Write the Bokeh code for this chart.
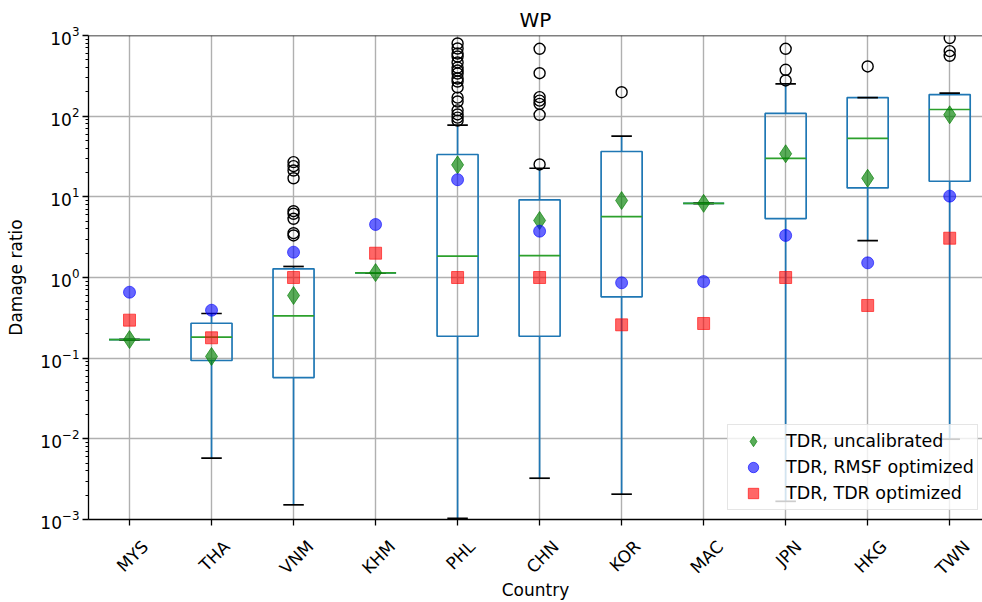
import math
from bokeh.plotting import figure
from bokeh.models import Range1d, FixedTicker, Span, Legend, LegendItem, LinearAxis
from bokeh.embed import file_html
from bokeh.resources import INLINE

countries = ["MYS", "THA", "VNM", "KHM", "PHL", "CHN", "KOR", "MAC", "JPN", "HKG", "TWN"]
q1 = [0.17, 0.0935, 0.0575, 1.14, 0.187, 0.187, 0.576, 8.3, 5.38, 12.9, 15.6]
median = [0.17, 0.182, 0.335, 1.14, 1.84, 1.87, 5.7, 8.3, 29.9, 52.9, 121]
q3 = [0.17, 0.271, 1.28, 1.14, 33.5, 9.19, 36.5, 8.3, 108, 170, 185]
whisker_low = [0.17, 0.00575, 0.00152, 1.14, 0.00103, 0.00325, 0.00206, 8.3, 0.00168, 2.87, 0.0099]
whisker_high = [0.17, 0.358, 1.37, 1.14, 77.3, 22.6, 56.5, 8.3, 252, 170, 193]

outliers_VNM = [26.9, 24.0, 21.2, 17.0, 6.64, 6.17, 5.34, 3.54, 3.32]
outliers_PHL = [796, 690, 598, 549, 463, 401, 368, 338, 293, 269, 227, 170, 152, 118, 105, 96, 88]
outliers_CHN = [684, 341, 172, 156, 142, 104, 25.2]
outliers_KOR = [198]
outliers_JPN = [684, 376, 277]
outliers_HKG = [413]
outliers_TWN = [930, 640, 560]
outliers = {"VNM": outliers_VNM, "PHL": outliers_PHL, "CHN": outliers_CHN, "KOR": outliers_KOR,
            "JPN": outliers_JPN, "HKG": outliers_HKG, "TWN": outliers_TWN}

tdr_uncalibrated = [0.17, 0.105, 0.598, 1.15, 24.9, 5.09, 9.0, 8.3, 34.2, 17.0, 104]
tdr_rmsf_optimized = [0.657, 0.393, 2.06, 4.54, 16.3, 3.75, 0.86, 0.89, 3.32, 1.52, 10.2]
tdr_tdr_optimized = [0.296, 0.179, 1.0, 2.0, 1.0, 1.0, 0.259, 0.269, 1.0, 0.45, 3.07]

FONT = "DejaVu Sans"
FS = 17
BLUE = "#1f77b4"
xs = list(range(1, len(countries) + 1))

X_START, X_END = 0.5, 11.4
FRAME_LEFT, FRAME_W = 88, 894
PX_PER_UNIT = FRAME_W / (X_END - X_START)

# DejaVu Sans advance widths (em) for the capitals used, to centre the rotated labels
ADV = {"A": 0.684, "C": 0.698, "G": 0.775, "H": 0.752, "J": 0.295, "K": 0.656, "L": 0.557,
       "M": 0.863, "N": 0.748, "O": 0.787, "P": 0.603, "R": 0.695, "S": 0.635, "T": 0.611,
       "V": 0.684, "W": 0.989, "Y": 0.611}

p = figure(width=982, height=602, y_axis_type="log",
           x_range=Range1d(X_START, X_END), y_range=Range1d(1e-3, 1e3),
           output_backend="svg", toolbar_location=None, title="WP",
           min_border_left=FRAME_LEFT, min_border_right=0, min_border_top=35, min_border_bottom=83)

p.title.text_font = FONT
p.title.text_font_size = "20px"
p.title.text_font_style = "normal"
p.title.text_color = "black"
p.title.align = "center"
p.title.standoff = 7
p.outline_line_color = None
p.background_fill_color = "white"
p.border_fill_color = "white"

xax = p.xaxis[0]
yax = p.yaxis[0]

xax.ticker = FixedTicker(ticks=xs)
xax.major_label_overrides = {x: "" for x in xs}

yax.ticker = FixedTicker(ticks=[10.0 ** k for k in range(-3, 4)],
                         minor_ticks=[m * 10.0 ** k for k in range(-3, 3) for m in range(2, 10)])
yax.axis_label = "Damage ratio"

for ax in (xax, yax):
    ax.axis_line_color = "black"
    ax.axis_line_width = 1.3
    ax.major_tick_line_color = "black"
    ax.major_tick_line_width = 1.3
    ax.minor_tick_line_color = "black"
    ax.major_tick_in = 0
    ax.major_tick_out = 6
    ax.minor_tick_in = 0
    ax.minor_tick_out = 3
    ax.major_label_text_font = FONT
    ax.major_label_text_font_size = f"{FS}px"
    ax.major_label_text_color = "black"
    ax.axis_label_text_font = FONT
    ax.axis_label_text_font_size = f"{FS}px"
    ax.axis_label_text_font_style = "normal"
    ax.axis_label_text_color = "black"
xax.minor_tick_line_color = None
xax.major_label_standoff = 0
yax.major_label_standoff = 3
yax.axis_label_standoff = 11

# second, line-less axis carrying the rotated country names, each anchor shifted so that
# the rotated text is centred under its tick (as matplotlib's ha="center")
label_pos = []
for x, c in zip(xs, countries):
    length_px = sum(ADV[ch] for ch in c) * FS
    label_pos.append(round(x + (0.3536 * length_px + 3) / PX_PER_UNIT, 4))
lax = LinearAxis(ticker=FixedTicker(ticks=label_pos),
                 major_label_overrides={pos: c for pos, c in zip(label_pos, countries)},
                 major_label_orientation=math.pi / 4,
                 axis_line_color=None, major_tick_line_color=None, minor_tick_line_color=None,
                 major_tick_in=0, major_tick_out=0, major_label_standoff=18,
                 major_label_text_font=FONT, major_label_text_font_size=f"{FS}px",
                 major_label_text_color="black",
                 axis_label="Country", axis_label_standoff=-9,
                 axis_label_text_font=FONT, axis_label_text_font_size=f"{FS}px",
                 axis_label_text_font_style="normal", axis_label_text_color="black")
p.add_layout(lax, "below")

p.xgrid.ticker = FixedTicker(ticks=xs)
for g in (p.xgrid[0], p.ygrid[0]):
    g.grid_line_color = "#b0b0b0"
    g.grid_line_width = 1.4

p.add_layout(Span(location=1e3, dimension="width", line_color="black", line_width=1.3))

# boxes
p.quad(left=[x - 0.25 for x in xs], right=[x + 0.25 for x in xs], bottom=q1, top=q3,
       fill_color=None, line_color=BLUE, line_width=1.7)
p.segment(x0=xs, y0=q3, x1=xs, y1=whisker_high, line_color=BLUE, line_width=1.7)
p.segment(x0=xs, y0=q1, x1=xs, y1=whisker_low, line_color=BLUE, line_width=1.7)
p.segment(x0=[x - 0.125 for x in xs], y0=whisker_high, x1=[x + 0.125 for x in xs], y1=whisker_high,
          line_color="black", line_width=1.7)
p.segment(x0=[x - 0.125 for x in xs], y0=whisker_low, x1=[x + 0.125 for x in xs], y1=whisker_low,
          line_color="black", line_width=1.7)
p.segment(x0=[x - 0.25 for x in xs], y0=median, x1=[x + 0.25 for x in xs], y1=median,
          line_color="#2ca02c", line_width=1.7)

ox, oy = [], []
for x, c in zip(xs, countries):
    for v in outliers.get(c, []):
        ox.append(x)
        oy.append(v)
p.scatter(ox, oy, marker="circle", size=11, fill_color=None, line_color="black", line_width=1.4)

r1 = p.scatter(xs, tdr_uncalibrated, marker="diamond", size=18, fill_color="green", fill_alpha=0.65,
               line_color="green", line_alpha=0.65)
r2 = p.scatter(xs, tdr_rmsf_optimized, marker="circle", size=12, fill_color="blue", fill_alpha=0.6,
               line_color="blue", line_alpha=0.6)
r3 = p.scatter(xs, tdr_tdr_optimized, marker="square", size=12, fill_color="red", fill_alpha=0.6,
               line_color="red", line_alpha=0.6)

legend = Legend(items=[LegendItem(label="TDR, uncalibrated", renderers=[r1]),
                       LegendItem(label="TDR, RMSF optimized", renderers=[r2]),
                       LegendItem(label="TDR, TDR optimized", renderers=[r3])],
                location=(639, 9))
legend.label_text_font = FONT
legend.label_text_font_size = "17.5px"
legend.label_text_color = "black"
legend.border_line_color = "#cccccc"
legend.border_line_width = 1
legend.background_fill_alpha = 0.8
legend.glyph_width = 44
legend.glyph_height = 26
legend.spacing = 0
legend.padding = 3
legend.margin = 0
legend.label_standoff = 11
legend.label_height = 20
p.add_layout(legend)

open("out.html", "w").write(file_html(p, INLINE))
